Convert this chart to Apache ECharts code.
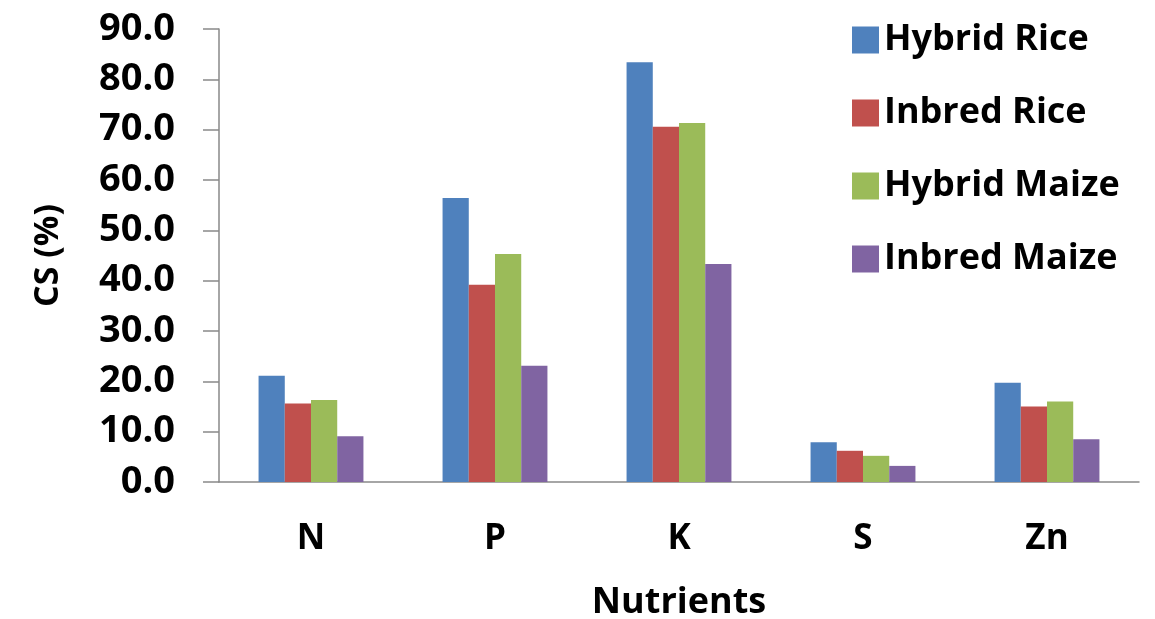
<!DOCTYPE html>
<html>
<head>
<meta charset="utf-8">
<script src="https://cdn.jsdelivr.net/npm/echarts@6/dist/echarts.min.js"></script>
<style>
html,body{margin:0;padding:0;background:#fff;}
#chart{width:1155px;height:619px;}
</style>
</head>
<body>
<div id="chart"></div>
<script>
const categories = ['N', 'P', 'K', 'S', 'Zn'];
const seriesNames = ['Hybrid Rice', 'Inbred Rice', 'Hybrid Maize', 'Inbred Maize'];
const hybridRice = [21.1, 56.4, 83.4, 7.9, 19.7];
const inbredRice = [15.6, 39.2, 70.6, 6.2, 15.0];
const hybridMaize = [16.3, 45.3, 71.3, 5.2, 16.0];
const inbredMaize = [9.1, 23.1, 43.3, 3.2, 8.5];
const colors = ['#4F81BD', '#C0504D', '#9BBB59', '#8064A2'];
const seriesValues = [hybridRice, inbredRice, hybridMaize, inbredMaize];

const FONT = 'Open Sans';
const chart = echarts.init(document.getElementById('chart'));
chart.setOption({
  animation: false,
  backgroundColor: '#ffffff',
  grid: { left: 219, right: 16, top: 29, bottom: 137, containLabel: false, outerBoundsMode: 'none' },
  legend: {
    orient: 'vertical',
    left: 847,
    top: 17,
    itemWidth: 27,
    itemHeight: 27,
    itemGap: 37,
    icon: 'rect',
    textStyle: { fontFamily: FONT, fontWeight: 'bold', fontSize: 36, color: '#000', padding: [0, 0, 0, 0] },
    data: seriesNames
  },
  xAxis: {
    type: 'category',
    data: categories,
    name: 'Nutrients',
    nameLocation: 'middle',
    nameGap: 103,
    nameTextStyle: { fontFamily: FONT, fontWeight: 'bold', fontSize: 36, color: '#000' },
    axisLine: { lineStyle: { color: '#898989', width: 1.5 } },
    axisTick: { show: false },
    axisLabel: { margin: 40, fontFamily: FONT, fontWeight: 'bold', fontSize: 35, color: '#000' }
  },
  yAxis: {
    type: 'value',
    min: 0,
    max: 90,
    interval: 10,
    name: 'CS (%)',
    nameLocation: 'middle',
    nameGap: 154,
    nameTextStyle: { fontFamily: FONT, fontWeight: 'bold', fontSize: 34, color: '#000' },
    axisLine: { show: true, lineStyle: { color: '#898989', width: 1.5 } },
    axisTick: { show: true, length: 16, lineStyle: { color: '#898989', width: 1.5 } },
    splitLine: { show: false },
    axisLabel: { margin: 44, fontFamily: FONT, fontWeight: 'bold', fontSize: 38, color: '#000',
      formatter: v => v.toFixed(1) }
  },
  series: seriesNames.map((n, i) => ({
    name: n,
    type: 'bar',
    data: seriesValues[i],
    barGap: '0%',
    barCategoryGap: '43%',
    itemStyle: { color: colors[i] }
  }))
});
</script>
</body>
</html>
